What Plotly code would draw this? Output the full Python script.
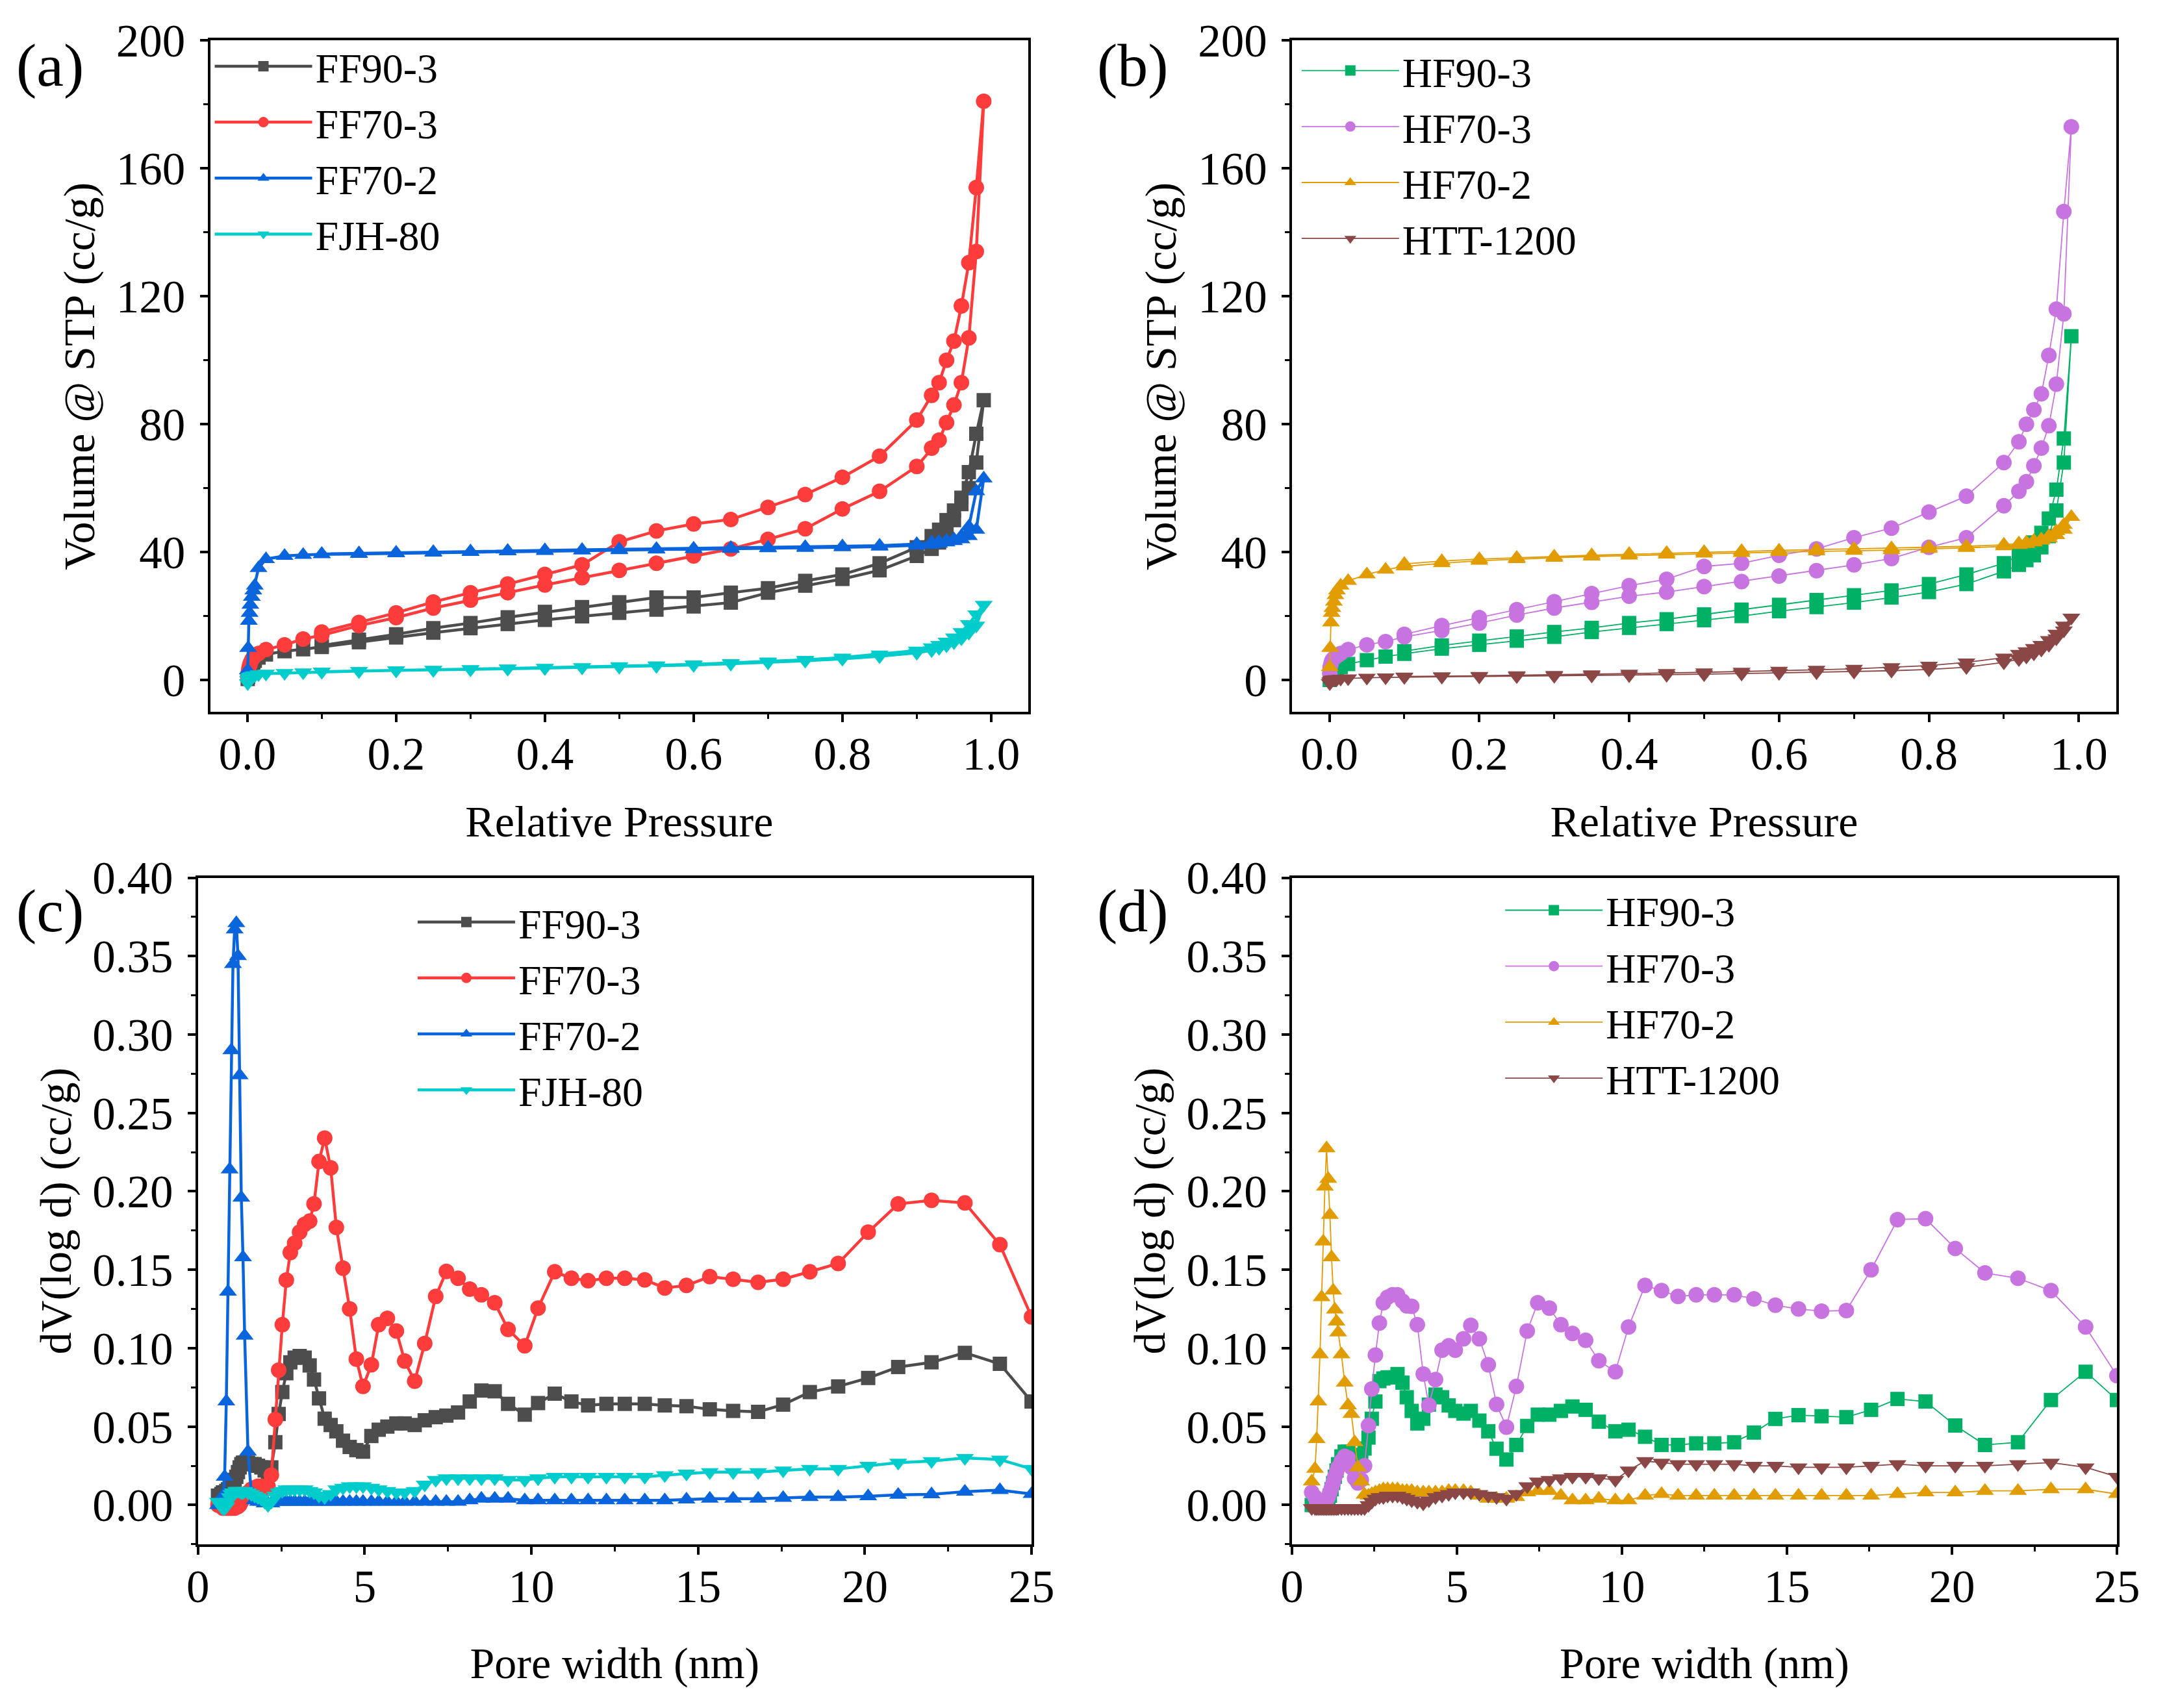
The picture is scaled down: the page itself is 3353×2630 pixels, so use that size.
import plotly.graph_objects as go

# ---- isotherm data (relative pressure, volume @ STP cc/g) ----
P_ADS = [0.0005, 0.001, 0.002, 0.003, 0.004, 0.006, 0.008, 0.01, 0.015, 0.025, 0.05, 0.075, 0.1,
         0.15, 0.2, 0.25, 0.3, 0.35, 0.4, 0.45, 0.5, 0.55, 0.6, 0.65, 0.7, 0.75, 0.8, 0.85,
         0.9, 0.92, 0.93, 0.94, 0.95, 0.96, 0.97, 0.98, 0.99]
P_DES = [0.98, 0.97, 0.96, 0.95, 0.94, 0.93, 0.92, 0.9, 0.85, 0.8, 0.75, 0.7, 0.65, 0.6,
         0.55, 0.5, 0.45, 0.4, 0.35, 0.3, 0.25, 0.2, 0.15, 0.1]

ff90_3_ads = [0.3, 1, 2, 3, 3.8, 4.8, 5.5, 6, 7, 8, 9, 9.6, 10.3,
              11.8, 13.3, 14.8, 16.2, 17.5, 18.8, 19.9, 21, 22, 23, 24.2, 27.3, 29.5, 31.6, 34.3,
              38.8, 41, 43, 46, 50, 55, 60, 68, 87.5]
ff90_3_des = [77, 65, 57, 53, 50, 47, 45, 41.5, 36.5, 33, 31, 28.7, 27.3, 25.8,
              25.8, 24.3, 22.8, 21.3, 19.6, 17.8, 16.2, 14.3, 12.6, 10.8]
ff70_3_ads = [1, 2, 3.5, 4.5, 5.3, 6.3, 7, 7.5, 8.3, 9.5, 11, 12.8, 14,
              17, 19.5, 22.5, 25, 27.3, 29.7, 32, 34.3, 36.5, 38.8, 41, 44, 47.3, 53.5, 59,
              66.8, 72.5, 75, 80.5, 86, 93, 107, 134, 181]
ff70_3_des = [154, 130.5, 117, 106, 100, 93, 89, 81.3, 70, 63.4, 58, 54, 50.2, 48.8,
              46.6, 43.2, 36, 33, 30, 27.3, 24.4, 21, 18, 15]
ff70_2_ads = [3, 10, 18.5, 21, 23.5, 26, 28, 29.5, 35, 37.8, 38.8, 39.1, 39.3,
              39.4, 39.6, 39.8, 40, 40.2, 40.3, 40.5, 40.6, 40.8, 40.9, 41, 41.2, 41.3, 41.5, 41.7,
              42, 42.3, 42.6, 43, 43.4, 44, 45, 47, 63]
ff70_2_des = [59, 48, 45, 44, 43.5, 43.2, 43, 42.5, 42, 41.8, 41.6, 41.4, 41.3, 41.1,
              41, 40.9, 40.7, 40.6, 40.4, 40.2, 40, 39.8, 39.6, 39.4]
fjh_80_ads = [-1, 0, 0.5, 0.8, 1, 1.2, 1.4, 1.5, 1.8, 2, 2.2, 2.4, 2.6,
              2.8, 3, 3.1, 3.3, 3.5, 3.7, 3.9, 4.1, 4.4, 4.7, 5.1, 5.5, 6, 6.6, 7.4,
              8.5, 9.3, 10, 10.8, 11.8, 13, 14.8, 17, 23.5]
fjh_80_des = [20.5, 17.5, 15, 13.3, 12, 11, 10.2, 9.2, 8, 7, 6.3, 5.8, 5.3, 4.9,
              4.6, 4.3, 4, 3.8, 3.6, 3.4, 3.2, 3, 2.8, 2.6]

hf90_3_ads = [0, 0.5, 1, 1.5, 2, 2.5, 2.8, 3, 4, 5, 6.2, 7.3, 8.2,
              9.8, 11, 12.3, 13.5, 15, 16.3, 17.5, 18.7, 20, 21.5, 22.8, 24.2, 25.8, 27.5, 30,
              34, 36, 37.5, 39, 41.5, 45, 53, 68, 107.5]
hf90_3_des = [75.5, 59.5, 50.5, 46, 43, 40.5, 39, 36.5, 33, 30, 28, 26.5, 25, 23.5,
              22, 20.5, 19, 17.8, 16.3, 15, 13.6, 12.3, 10.8, 9]
hf70_3_ads = [2, 4, 5, 5.8, 6.3, 6.8, 7.2, 7.5, 8.3, 9.5, 11, 12, 13.5,
              15.5, 17.8, 20.3, 22.5, 24.3, 26.2, 27.5, 29.2, 30.8, 32.5, 34.2, 36, 38, 41.5, 44.5,
              54.5, 59, 62, 67, 72.5, 79.5, 92.5, 114.5, 173]
hf70_3_des = [146.5, 116, 101.5, 89.5, 84.5, 80, 74.5, 68, 57.5, 52.5, 47.5, 44.5, 41, 39,
              36.5, 35.5, 31.5, 29.5, 27, 24.5, 22, 19.5, 17, 14.3]
hf70_2_ads = [4, 10, 18, 21, 22.5, 24.5, 26.5, 28, 29.5, 31, 33, 34.5, 35.5,
              36.5, 37.3, 37.8, 38.2, 38.6, 38.9, 39.2, 39.5, 39.7, 40, 40.2, 40.4, 40.6, 41, 41.3,
              41.8, 42.2, 42.5, 43, 43.6, 44.3, 45.3, 47, 51]
hf70_2_des = [48.5, 46.5, 45, 44, 43.5, 43, 42.7, 42.3, 41.8, 41.5, 41.2, 41, 40.8, 40.5,
              40.3, 40, 39.7, 39.4, 39, 38.6, 38.2, 37.8, 37.2, 36.3]
htt_1200_ads = [-1, -0.5, -0.3, 0, 0.1, 0.2, 0.2, 0.3, 0.4, 0.5, 0.7, 0.8, 0.9,
                1, 1.1, 1.2, 1.3, 1.4, 1.5, 1.6, 1.8, 2, 2.2, 2.4, 2.6, 2.9, 3.3, 4,
                5.5, 6.5, 7.3, 8.3, 9.5, 11, 13, 15.5, 19.5]
htt_1200_des = [17, 14.5, 12.5, 11, 10, 9, 8.2, 7, 5.5, 4.5, 4, 3.5, 3.2, 2.9,
                2.6, 2.4, 2.2, 2, 1.8, 1.6, 1.5, 1.3, 1.2, 1.1]

# ---- pore size distribution data (pore width nm, dV(log d) cc/g) ----
W = [0.6, 0.7, 0.75, 0.8, 0.85, 0.9, 0.95, 1.0, 1.05, 1.1, 1.15, 1.2, 1.25, 1.3, 1.35, 1.4,
     1.5, 1.6, 1.7, 1.8, 1.9, 2.0, 2.1, 2.2,
     2.32, 2.42, 2.53, 2.65, 2.77, 2.9, 3.05, 3.2, 3.35, 3.48, 3.63, 3.8, 3.98, 4.15, 4.35,
     4.55, 4.75, 4.95, 5.2, 5.42, 5.68, 5.95, 6.2, 6.5, 6.8, 7.13, 7.45, 7.8, 8.15, 8.5,
     8.9, 9.3, 9.8, 10.2, 10.7, 11.2, 11.7, 12.25, 12.8, 13.4, 14.0, 14.65, 15.35, 16.05,
     16.8, 17.55, 18.35, 19.2, 20.1, 21.0, 22.0, 23.0, 24.05, 25.0]

ff90_3_psd = [0.006, 0.007, 0.008, 0.008, 0.009, 0.01, 0.011, 0.012, 0.014, 0.016, 0.018, 0.021,
              0.024, 0.026, 0.027, 0.027, 0.027, 0.026, 0.026, 0.025, 0.024, 0.022, 0.021, 0.024,
              0.040, 0.058, 0.072, 0.084, 0.091, 0.094, 0.095, 0.094, 0.089, 0.080, 0.068, 0.055,
              0.051, 0.047, 0.041, 0.037, 0.035, 0.034, 0.044, 0.048, 0.050, 0.052, 0.052, 0.051,
              0.054, 0.056, 0.057, 0.059, 0.066, 0.073, 0.0725, 0.0645, 0.0576, 0.065, 0.071,
              0.066, 0.0635, 0.0645, 0.0645, 0.0645, 0.0635, 0.063, 0.061, 0.060, 0.0594, 0.064,
              0.072, 0.0756, 0.081, 0.088, 0.091, 0.097, 0.090, 0.066]
ff70_3_psd = [0.0, -0.001, -0.002, -0.002, -0.002, -0.002, -0.002, -0.002, -0.002, -0.002, -0.001,
              -0.001, 0.0, 0.002, 0.004, 0.006, 0.008, 0.01, 0.011, 0.012, 0.012, 0.011, 0.012, 0.019,
              0.0545, 0.086, 0.115, 0.1435, 0.161, 0.167, 0.174, 0.179, 0.181, 0.192, 0.219, 0.234,
              0.215, 0.177, 0.151, 0.125, 0.093, 0.0756, 0.0894, 0.115, 0.119, 0.111, 0.0918, 0.079,
              0.103, 0.133, 0.149, 0.1446, 0.1377, 0.134, 0.129, 0.112, 0.1015, 0.1256, 0.1487,
              0.1446, 0.143, 0.1446, 0.1446, 0.1436, 0.1384, 0.14, 0.1456, 0.144, 0.142, 0.144,
              0.1487, 0.154, 0.174, 0.192, 0.1943, 0.1926, 0.166, 0.120]
ff70_2_psd = [0.0, 0.0, 0.006, 0.018, 0.066, 0.136, 0.214, 0.29, 0.345, 0.367, 0.371, 0.35,
              0.274, 0.196, 0.158, 0.108, 0.034, 0.008, 0.003, 0.002, 0.002, 0.001, 0.001, 0.001,
              0.002, 0.002, 0.002, 0.002, 0.002, 0.002, 0.002, 0.002, 0.002, 0.002, 0.002, 0.002,
              0.002, 0.002, 0.002, 0.002, 0.002, 0.002, 0.002, 0.002, 0.002, 0.002, 0.002, 0.002,
              0.002, 0.002, 0.002, 0.002, 0.003, 0.004, 0.004, 0.004, 0.003, 0.003, 0.003, 0.003,
              0.003, 0.003, 0.003, 0.003, 0.003, 0.0035, 0.004, 0.004, 0.004, 0.0045, 0.005, 0.005,
              0.0055, 0.0065, 0.0068, 0.0085, 0.0095, 0.007]
fjh_80_psd = [0.002, -0.001, -0.002, -0.002, -0.001, 0.002, 0.005, 0.007, 0.008, 0.008, 0.009, 0.009,
              0.009, 0.008, 0.008, 0.009, 0.008, 0.007, 0.006, 0.005, 0.004, 0.002, 0.0, 0.002,
              0.006, 0.008, 0.009, 0.010, 0.010, 0.010, 0.010, 0.010, 0.009, 0.008, 0.006, 0.005,
              0.007, 0.010, 0.011, 0.012, 0.012, 0.012, 0.011, 0.010, 0.009, 0.008, 0.008, 0.009,
              0.013, 0.016, 0.017, 0.017, 0.017, 0.017, 0.017, 0.016, 0.016, 0.017, 0.018, 0.018,
              0.018, 0.018, 0.018, 0.018, 0.019, 0.020, 0.021, 0.021, 0.021, 0.022, 0.023, 0.023,
              0.025, 0.027, 0.028, 0.030, 0.029, 0.023]

hf90_3_psd = [0.0, 0.0, 0.0, 0.0, 0.0, 0.0, 0.0, 0.0, 0.001, 0.003, 0.006, 0.01,
              0.014, 0.018, 0.022, 0.026, 0.031, 0.034, 0.034, 0.032, 0.03, 0.029, 0.029, 0.036,
              0.043, 0.055, 0.066, 0.079, 0.0807, 0.0814, 0.0814, 0.0835, 0.078, 0.0687, 0.060, 0.052,
              0.055, 0.064, 0.0704, 0.0687, 0.0635, 0.060, 0.0583, 0.060, 0.0538, 0.047, 0.0359, 0.029,
              0.0383, 0.0504, 0.0576, 0.0576, 0.060, 0.0628, 0.0607, 0.0531, 0.047, 0.048, 0.0435,
              0.0383, 0.0383, 0.0393, 0.0393, 0.040, 0.0462, 0.0549, 0.0573, 0.0566, 0.056, 0.0607,
              0.0676, 0.066, 0.0507, 0.0383, 0.040, 0.067, 0.085, 0.067]
hf70_3_psd = [0.008, 0.005, 0.002, 0.0, -0.001, -0.001, 0.0, 0.001, 0.003, 0.005, 0.008, 0.011,
              0.014, 0.018, 0.021, 0.024, 0.028, 0.031, 0.030, 0.024, 0.017, 0.014, 0.016, 0.025,
              0.0507, 0.074, 0.0956, 0.116, 0.129, 0.1325, 0.134, 0.134, 0.130, 0.127, 0.1267, 0.115,
              0.0835, 0.0635, 0.080, 0.0987, 0.1015, 0.0987, 0.106, 0.1146, 0.106, 0.0894, 0.0642,
              0.0497, 0.0756, 0.111, 0.129, 0.1256, 0.115, 0.1094, 0.105, 0.092, 0.085, 0.1135,
              0.140, 0.1367, 0.133, 0.134, 0.134, 0.134, 0.1315, 0.1274, 0.125, 0.1236, 0.124,
              0.150, 0.182, 0.1826, 0.1636, 0.148, 0.1446, 0.1367, 0.1135, 0.0825]
hf70_2_psd = [0.015, 0.023, 0.042, 0.066, 0.096, 0.1325, 0.168, 0.203, 0.2274, 0.208, 0.185, 0.158,
              0.1367, 0.1246, 0.117, 0.110, 0.096, 0.078, 0.0635, 0.058, 0.040, 0.024, 0.015, 0.0066,
              0.006, 0.007, 0.008, 0.009, 0.01, 0.01, 0.01, 0.01, 0.009, 0.009, 0.009, 0.008,
              0.008, 0.008, 0.008, 0.008, 0.009, 0.009, 0.009, 0.008, 0.006, 0.004, 0.004, 0.004,
              0.005, 0.008, 0.009, 0.009, 0.006, 0.003, 0.003, 0.004, 0.003, 0.003, 0.006, 0.007,
              0.006, 0.006, 0.006, 0.006, 0.006, 0.006, 0.006, 0.006, 0.006, 0.006, 0.007, 0.008,
              0.008, 0.009, 0.009, 0.01, 0.01, 0.007]
htt_1200_psd = [-0.002, -0.002, -0.002, -0.002, -0.002, -0.002, -0.002, -0.002, -0.002, -0.002,
                -0.002, -0.002, -0.002, -0.002, -0.002, -0.002, -0.002, -0.002, -0.002, -0.002,
                -0.002, -0.002, -0.002, -0.002,
                0.0, 0.002, 0.004, 0.005, 0.005, 0.006, 0.006, 0.006, 0.005, 0.004, 0.003, 0.002,
                0.001, 0.003, 0.005, 0.006, 0.007, 0.008, 0.008, 0.008, 0.007, 0.006, 0.005, 0.004,
                0.007, 0.012, 0.015, 0.016, 0.017, 0.018, 0.018, 0.017, 0.016, 0.022, 0.028, 0.027,
                0.026, 0.026, 0.026, 0.026, 0.025, 0.025, 0.024, 0.024, 0.024, 0.025, 0.026, 0.025,
                0.025, 0.025, 0.026, 0.027, 0.024, 0.018]

FONT = "Liberation Serif"

fig = go.Figure()


def add(name, x, y, color, symbol, size, lw, xa, ya, leg):
    fig.add_trace(go.Scatter(
        x=x, y=y, name=name, mode="lines+markers",
        line=dict(color=color, width=lw),
        marker=dict(symbol=symbol, size=size, color=color),
        xaxis=xa, yaxis=ya, legend=leg,
    ))


# (a)
add("FF90-3", P_ADS + P_DES, ff90_3_ads + ff90_3_des, "#4d4d4d", "square", 22, 4.5, "x", "y", "legend")
add("FF70-3", P_ADS + P_DES, ff70_3_ads + ff70_3_des, "#ff3c3c", "circle", 24, 4.5, "x", "y", "legend")
add("FF70-2", P_ADS + P_DES, ff70_2_ads + ff70_2_des, "#0a64dc", "triangle-up", 24, 4.5, "x", "y", "legend")
add("FJH-80", P_ADS + P_DES, fjh_80_ads + fjh_80_des, "#00cccc", "triangle-down", 24, 4.5, "x", "y", "legend")
# (b)
add("HF90-3", P_ADS + P_DES, hf90_3_ads + hf90_3_des, "#00b064", "square", 22, 1.8, "x2", "y2", "legend2")
add("HF70-3", P_ADS + P_DES, hf70_3_ads + hf70_3_des, "#c874e0", "circle", 24, 1.8, "x2", "y2", "legend2")
add("HF70-2", P_ADS + P_DES, hf70_2_ads + hf70_2_des, "#e09c00", "triangle-up", 24, 1.8, "x2", "y2", "legend2")
add("HTT-1200", P_ADS + P_DES, htt_1200_ads + htt_1200_des, "#8b4646", "triangle-down", 24, 1.8, "x2", "y2", "legend2")
# (c)
add("FF90-3", W, ff90_3_psd, "#4d4d4d", "square", 22, 4.5, "x3", "y3", "legend3")
add("FF70-3", W, ff70_3_psd, "#ff3c3c", "circle", 24, 4.5, "x3", "y3", "legend3")
add("FF70-2", W, ff70_2_psd, "#0a64dc", "triangle-up", 24, 4.5, "x3", "y3", "legend3")
add("FJH-80", W, fjh_80_psd, "#00cccc", "triangle-down", 24, 4.5, "x3", "y3", "legend3")
# (d)
add("HF90-3", W, hf90_3_psd, "#00b064", "square", 22, 1.8, "x4", "y4", "legend4")
add("HF70-3", W, hf70_3_psd, "#c874e0", "circle", 24, 1.8, "x4", "y4", "legend4")
add("HF70-2", W, hf70_2_psd, "#e09c00", "triangle-up", 24, 1.8, "x4", "y4", "legend4")
add("HTT-1200", W, htt_1200_psd, "#8b4646", "triangle-down", 24, 1.8, "x4", "y4", "legend4")

axis_common = dict(
    showline=True, linecolor="black", linewidth=4, mirror=True,
    ticks="outside", ticklen=12, tickwidth=4, tickcolor="black",
    showgrid=False, zeroline=False,
    tickfont=dict(family=FONT, size=71, color="black"),
    title_font=dict(family=FONT, size=68, color="black"),
)
minor_style = dict(ticklen=7, tickwidth=3, tickcolor="black", ticks="outside")

iso_x = dict(axis_common, range=[-0.05, 1.05], tick0=0, dtick=0.2, tickformat=".1f",
             minor=dict(minor_style, dtick=0.1),
             title=dict(text="Relative Pressure", standoff=42))
iso_y = dict(axis_common, range=[-10, 200], tick0=0, dtick=40,
             minor=dict(minor_style, dtick=20),
             title=dict(text="Volume @ STP (cc/g)", standoff=12))
psd_x = dict(axis_common, range=[0, 25], tick0=0, dtick=5,
             minor=dict(minor_style, dtick=2.5),
             title=dict(text="Pore width (nm)", standoff=56))
psd_y = dict(axis_common, range=[-0.025, 0.40], tick0=0, dtick=0.05, tickformat=".2f",
             minor=dict(minor_style, dtick=0.025),
             title=dict(text="dV(log d) (cc/g)", standoff=12))

top = [0.5948, 0.9937]
bot = [0.1004, 0.4963]

legend_common = dict(
    font=dict(family=FONT, size=64, color="black"),
    bgcolor="rgba(0,0,0,0)", borderwidth=0, tracegroupgap=0,
    itemwidth=150, xanchor="left", yanchor="top", itemclick=False,
)

fig.update_layout(
    width=3353, height=2630,
    paper_bgcolor="white", plot_bgcolor="white",
    margin=dict(l=0, r=0, t=0, b=0),
    xaxis=dict(iso_x, domain=[0.0902, 0.4720], anchor="y"),
    yaxis=dict(iso_y, domain=top, anchor="x"),
    xaxis2=dict(iso_x, domain=[0.595, 0.9797], anchor="y2"),
    yaxis2=dict(iso_y, domain=top, anchor="x2"),
    xaxis3=dict(psd_x, domain=[0.0845, 0.4735], anchor="y3"),
    yaxis3=dict(psd_y, domain=bot, anchor="x3"),
    xaxis4=dict(psd_x, domain=[0.595, 0.98], anchor="y4"),
    yaxis4=dict(psd_y, domain=bot, anchor="x4"),
    legend=dict(legend_common, x=0.0908, y=0.997),
    legend2=dict(legend_common, x=0.598, y=0.9944),
    legend3=dict(legend_common, x=0.1855, y=0.4886),
    legend4=dict(legend_common, x=0.693, y=0.4956),
    showlegend=True,
)

# pull x tick labels a little closer to the axis, push y tick labels a little away
try:
    fig.update_xaxes(ticklabelstandoff=-12)
    fig.update_yaxes(ticklabelstandoff=8)
except ValueError:
    pass

for txt, x, y in [("(a)", -0.001, 1.0), ("(b)", 0.5034, 1.0),
                  ("(c)", -0.001, 0.4978), ("(d)", 0.5034, 0.4978)]:
    fig.add_annotation(text=txt, x=x, y=y, xref="paper", yref="paper",
                       xanchor="left", yanchor="top", showarrow=False,
                       font=dict(family=FONT, size=94, color="black"))

fig.write_html("out.html")
